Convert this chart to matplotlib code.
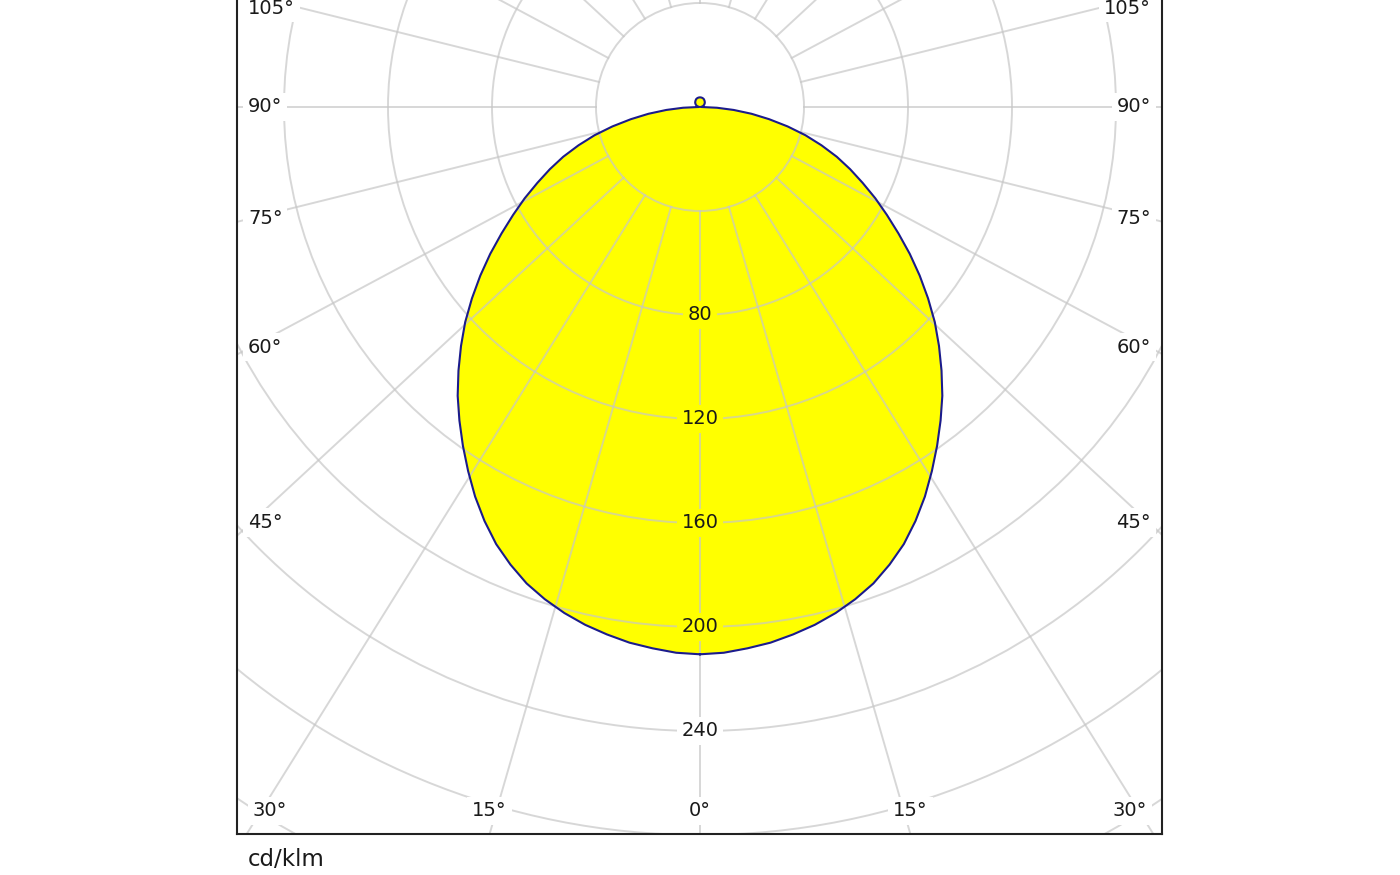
import numpy as np
import matplotlib
matplotlib.use("Agg")
import matplotlib.pyplot as plt

# ==========================================
# 1. Data (cd/klm; both halves are the same)
# ==========================================
ANGLES_DOWN = [0, 2.5, 5, 7.5, 10, 12.5, 15, 17.5, 20, 22.5, 25, 27.5, 30, 32.5, 35,
               37.5, 40, 42.5, 45, 47.5, 50, 52.5, 55, 57.5, 60, 62.5, 65, 67.5, 70,
               72.5, 75, 77.5, 80, 82.5, 85, 87.5, 90]
INTENSITY_DOWN = [210.5, 210.1, 209, 207.8, 206, 204, 201.5, 198.5, 195, 190.5, 185.5,
                  179.5, 173, 166, 159, 152, 145, 137.5, 130, 122.5, 114.5, 106.5,
                  98.5, 90.5, 83, 76, 69, 62.5, 56, 49, 42, 34.5, 27, 20, 13, 6.5, 0.5]

ANGLES_UP = [95, 100, 105, 110, 115, 120, 125, 130, 135, 140, 145, 150, 155, 160, 165,
             170, 175, 180]
INTENSITY_UP = [0.3, 0.6, 1.0, 1.3, 1.6, 1.9, 2.1, 2.4, 2.6, 2.8, 3.0, 3.2, 3.4, 3.5,
                3.6, 3.65, 3.7, 3.7]

RING_VALUES = [40, 80, 120, 160, 200, 240, 280, 320]
RING_LABELS = [80, 120, 160, 200, 240]
SPOKE_ANGLES = list(range(0, 181, 15))
UNIT_LABEL = "cd/klm"

# ==========================================
# 2. Layout (pixels of the 1400x875 picture)
# ==========================================
FIG_W, FIG_H = 1400, 875
PX_PER_UNIT = 2.6           # 40 cd/klm per 104 px
CENTER_X, CENTER_Y = 700, 107
FRAME_LEFT, FRAME_RIGHT, FRAME_BOTTOM, FRAME_TOP = 237, 1162, 834, -20
SPOKE_STRETCH = 1.08        # spokes of the original are drawn slightly flattened
SIDE_HIT_PX = 14            # side labels sit where a spoke crosses this inset
SIDE_TEXT_PX = 11
BOTTOM_TEXT_PX = 23
TOP_LIMIT_PX = 8
CORNER_MIN_PX = 33

FILL_COLOR = "#ffff00"
LINE_COLOR = "#1b1b8c"
GRID_COLOR = (0.78, 0.78, 0.78)
TEXT_COLOR = "#1a1a1a"
FONT_SIZE = 14


def px_to_x(px):
    return (px - CENTER_X) / PX_PER_UNIT


def px_to_y(py):
    return (CENTER_Y - py) / PX_PER_UNIT


# ==========================================
# 3. Figure and axes
# ==========================================
fig = plt.figure(figsize=(FIG_W / 100, FIG_H / 100), dpi=100)
ax = fig.add_axes([FRAME_LEFT / FIG_W,
                   (FIG_H - FRAME_BOTTOM) / FIG_H,
                   (FRAME_RIGHT - FRAME_LEFT) / FIG_W,
                   (FRAME_BOTTOM - FRAME_TOP) / FIG_H])
ax.set_xlim(px_to_x(FRAME_LEFT), px_to_x(FRAME_RIGHT))
ax.set_ylim(px_to_y(FRAME_BOTTOM), px_to_y(FRAME_TOP))
ax.set_xticks([])
ax.set_yticks([])
for sp in ax.spines.values():
    sp.set_linewidth(1.5)
    sp.set_color("#222222")

# ==========================================
# 4. Intensity curve (0 deg points straight down)
# ==========================================
theta = np.radians(np.array(ANGLES_DOWN + ANGLES_UP, dtype=float))
r = np.array(INTENSITY_DOWN + INTENSITY_UP, dtype=float)
xs_right = r * np.sin(theta)
ys_right = -r * np.cos(theta)
xs = np.concatenate([xs_right, -xs_right[::-1]])
ys = np.concatenate([ys_right, ys_right[::-1]])

ax.fill(xs, ys, color=FILL_COLOR, lw=0, zorder=1)
ax.plot(xs, ys, color=LINE_COLOR, lw=1.5, zorder=3, solid_joinstyle="round")

# ==========================================
# 5. Polar grid
# ==========================================
for v in RING_VALUES:
    ax.add_patch(plt.Circle((0, 0), v, fill=False, ec=GRID_COLOR, lw=1.4,
                            alpha=0.7, zorder=2))


def spoke_dir(a_deg, side):
    a = np.radians(a_deg)
    d = np.array([side * SPOKE_STRETCH * np.sin(a), -np.cos(a)])
    return d / np.hypot(*d)


inner = RING_VALUES[0]
for a in SPOKE_ANGLES:
    for side in (1, -1):
        if a in (0, 180) and side == -1:
            continue
        d = spoke_dir(a, side)
        ax.plot([inner * d[0], 600 * d[0]], [inner * d[1], 600 * d[1]],
                color=GRID_COLOR, lw=1.4, alpha=0.7, zorder=2)

# ring values along the 0 deg spoke
peak = INTENSITY_DOWN[0]
for v in RING_LABELS:
    bg = FILL_COLOR if v < peak else "white"
    ax.text(0, -v, str(v), ha="center", va="center", fontsize=FONT_SIZE,
            color=TEXT_COLOR, zorder=4,
            bbox=dict(boxstyle="square,pad=0.25", fc=bg, ec="none"))

# angle labels along the frame
label_box = dict(boxstyle="square,pad=0.25", fc="white", ec="none")
y_bottom_text = px_to_y(FRAME_BOTTOM - BOTTOM_TEXT_PX)
y_top_limit = px_to_y(TOP_LIMIT_PX)
for a in SPOKE_ANGLES:
    for side in (1, -1):
        if a == 0 and side == -1:
            continue
        d = spoke_dir(a, side)
        x_hit = abs(px_to_x(FRAME_LEFT + SIDE_HIT_PX))
        if abs(d[0]) > 1e-9:
            y_side = d[1] * x_hit / abs(d[0])
            if y_bottom_text <= y_side <= px_to_y(FRAME_TOP):
                if side == -1:
                    tx, ha = px_to_x(FRAME_LEFT + SIDE_TEXT_PX), "left"
                else:
                    tx, ha = px_to_x(FRAME_RIGHT - SIDE_TEXT_PX), "right"
                ax.text(tx, min(y_side, y_top_limit), f"{a}°", ha=ha, va="center",
                        fontsize=FONT_SIZE, color=TEXT_COLOR, zorder=4, bbox=label_box)
                continue
        if d[1] < -1e-9:
            x_b = d[0] * px_to_y(FRAME_BOTTOM) / d[1]
            lim = abs(px_to_x(FRAME_LEFT + CORNER_MIN_PX))
            x_b = float(np.clip(x_b, -lim, lim))
            ax.text(x_b, y_bottom_text, f"{a}°", ha="center", va="center",
                    fontsize=FONT_SIZE, color=TEXT_COLOR, zorder=4, bbox=label_box)

fig.text((FRAME_LEFT + 11) / FIG_W, 1 - 860 / FIG_H, UNIT_LABEL,
         ha="left", va="center", fontsize=16.5, color=TEXT_COLOR)

fig.savefig("out.png", dpi=100)
